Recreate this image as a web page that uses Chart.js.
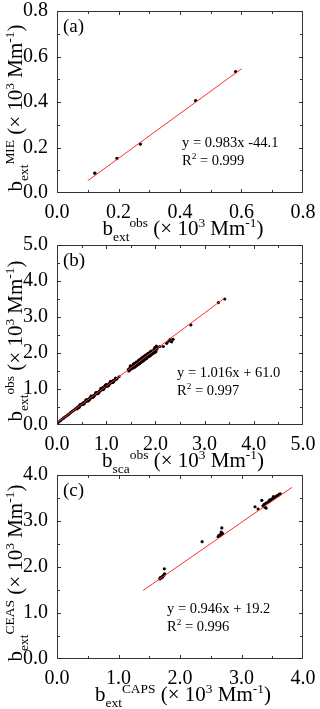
<!DOCTYPE html>
<html>
<head>
<meta charset="utf-8">
<script src="https://cdn.jsdelivr.net/npm/chart.js@4.4.1/dist/chart.umd.min.js"></script>
<style>
  body { margin: 0; background: #fff; width: 320px; height: 709px; position: relative; overflow: hidden; }
  .panel { position: absolute; left: 0; width: 320px; }
  .box { position: absolute; border: 1px solid #333; box-sizing: border-box; pointer-events: none; }
</style>
</head>
<body>
<div class="panel" style="top:0;height:245px"><canvas id="chartA"></canvas></div>
<div class="panel" style="top:230px;height:245px"><canvas id="chartB"></canvas></div>
<div class="panel" style="top:460px;height:249px"><canvas id="chartC"></canvas></div>
<script>
// (a) b_ext MIE vs b_ext obs
const obsA = [0.123, 0.195, 0.271, 0.451, 0.581];
const mieA = [0.087, 0.152, 0.215, 0.406, 0.533];
const fitAx = [0.1, 0.6];
const fitAy = [0.054, 0.546];
const ticksA = [0, 0.2, 0.4, 0.6, 0.8];

// (b) b_ext obs vs b_sca obs
const scaB = [
  0.02, 0.04, 0.07, 0.10, 0.13, 0.16, 0.19, 0.22, 0.25, 0.28, 0.31, 0.34, 0.37,
  0.40, 0.42, 0.44, 0.46, 0.48, 0.50, 0.52, 0.54, 0.56, 0.58, 0.60, 0.62, 0.64, 0.66, 0.68, 0.70,
  0.72, 0.74, 0.76, 0.78, 0.80, 0.82, 0.84, 0.86, 0.88, 0.90, 0.92, 0.94, 0.96, 0.98, 1.00,
  1.02, 1.04, 1.06, 1.08, 1.10, 1.12, 1.14, 1.16, 1.18, 1.20, 1.22, 1.26,
  0.45, 0.55, 0.65, 0.75, 0.85, 0.95, 1.05, 1.15, 0.92, 1.00, 1.08, 0.97,
  0.41, 0.47, 0.53, 0.59, 0.63, 0.69, 0.73, 0.79, 0.83, 0.89, 0.93, 0.99, 1.03, 1.09, 1.13, 1.19,
  1.45, 1.47, 1.48, 1.50, 1.51, 1.53, 1.54, 1.56, 1.57, 1.59, 1.60, 1.62, 1.63, 1.64, 1.66, 1.67,
  1.68, 1.70, 1.71, 1.72, 1.74, 1.75, 1.76, 1.78, 1.79, 1.80, 1.82, 1.83, 1.84, 1.86, 1.87, 1.88,
  1.90, 1.91, 1.92, 1.94, 1.95, 1.97, 1.98, 2.00, 2.01, 2.03, 2.02, 1.99, 1.70, 1.76, 1.58, 1.86,
  1.46, 1.49, 1.52, 1.55, 1.58, 1.61, 1.64, 1.67, 1.70, 1.73, 1.76, 1.79, 1.82, 1.85, 1.88, 1.91,
  1.94, 1.97, 2.00, 2.04, 1.65, 1.72, 1.81, 1.89,
  2.09, 2.16, 2.23, 2.27, 2.30, 2.33, 2.36, 2.72, 3.28, 3.41
];
const extB = [
  0.07, 0.09, 0.12, 0.16, 0.19, 0.22, 0.25, 0.28, 0.31, 0.35, 0.38, 0.41, 0.44,
  0.47, 0.50, 0.50, 0.54, 0.55, 0.58, 0.59, 0.62, 0.63, 0.66, 0.66, 0.70, 0.71, 0.74, 0.74, 0.78,
  0.79, 0.82, 0.83, 0.86, 0.87, 0.90, 0.91, 0.94, 0.95, 0.98, 0.99, 1.03, 1.03, 1.07, 1.07,
  1.11, 1.11, 1.15, 1.15, 1.19, 1.19, 1.23, 1.23, 1.26, 1.27, 1.29, 1.34,
  0.49, 0.59, 0.69, 0.80, 0.90, 1.00, 1.10, 1.20, 1.03, 1.12, 1.19, 1.08,
  0.45, 0.57, 0.57, 0.70, 0.67, 0.80, 0.77, 0.90, 0.87, 1.01, 0.98, 1.11, 1.08, 1.21, 1.18, 1.30,
  1.54, 1.57, 1.53, 1.60, 1.56, 1.62, 1.58, 1.65, 1.60, 1.67, 1.63, 1.70, 1.66, 1.73, 1.69, 1.76,
  1.71, 1.78, 1.74, 1.81, 1.77, 1.84, 1.79, 1.86, 1.82, 1.89, 1.85, 1.91, 1.88, 1.94, 1.90, 1.96,
  1.93, 1.99, 1.96, 2.02, 1.99, 2.05, 2.01, 2.08, 2.04, 2.11, 2.19, 2.15, 1.83, 1.90, 1.71, 1.99,
  1.50, 1.64, 1.57, 1.69, 1.62, 1.75, 1.68, 1.81, 1.74, 1.87, 1.80, 1.93, 1.86, 1.99, 1.92, 2.05,
  1.98, 2.10, 2.03, 2.15, 1.78, 1.85, 1.95, 2.02,
  2.18, 2.18, 2.27, 2.33, 2.38, 2.31, 2.38, 2.78, 3.40, 3.50
];
const fitBx = [0, 3.41];
const fitBy = [0.06, 3.53];
const ticksB = [0, 1, 2, 3, 4, 5];

// (c) b_ext CEAS vs b_ext CAPS
const capsC = [
  1.67, 1.68, 1.69, 1.70, 1.71, 1.72, 1.73, 1.74, 1.75, 1.745,
  2.36,
  2.62, 2.63, 2.64, 2.65, 2.66, 2.67, 2.68, 2.69, 2.67, 2.68,
  3.22, 3.27, 3.33, 3.35, 3.38, 3.40, 3.37, 3.40, 3.43, 3.45, 3.46, 3.47, 3.49, 3.50,
  3.52, 3.52, 3.54, 3.56, 3.58, 3.60, 3.61, 3.63
];
const ceasC = [
  1.74, 1.77, 1.76, 1.78, 1.77, 1.80, 1.81, 1.83, 1.85, 1.96,
  2.55,
  2.66, 2.68, 2.67, 2.70, 2.69, 2.72, 2.71, 2.73, 2.76, 2.85,
  3.31, 3.26, 3.45, 3.33, 3.30, 3.28, 3.36, 3.39, 3.41, 3.43, 3.46, 3.45, 3.47, 3.48,
  3.50, 3.53, 3.51, 3.53, 3.55, 3.56, 3.58, 3.59
];
const fitCx = [1.40, 3.82];
const fitCy = [1.49, 3.73];
const ticksC = [0, 1, 2, 3, 4];

const SERIF = '"Liberation Serif", "Times New Roman", serif';

function partsWidth(ctx, parts, size) {
  let w = 0;
  parts.forEach(([t, m]) => {
    ctx.font = (m ? size * 0.64 : size) + 'px ' + SERIF;
    w += ctx.measureText(t).width;
  });
  return w;
}

function drawParts(ctx, parts, x, y, size) {
  let cx = x;
  parts.forEach(([t, m]) => {
    ctx.font = (m ? size * 0.64 : size) + 'px ' + SERIF;
    const dy = m === 'sub' ? size * 0.27 : m === 'sup' ? -size * 0.4 : 0;
    ctx.fillText(t, cx, y + dy);
    cx += ctx.measureText(t).width;
  });
}

const framePlugin = {
  id: 'frame',
  afterDraw(chart, args, o) {
    const { ctx, chartArea: a, scales: { x, y } } = chart;
    ctx.save();
    const L = Math.round(a.left), T = Math.round(a.top);
    const R = Math.round(a.right), B = Math.round(a.bottom);

    // box round the plot
    ctx.strokeStyle = 'rgb(50, 50, 50)';
    ctx.lineWidth = 1;
    ctx.beginPath();
    ctx.rect(L + 0.5, T + 0.5, R - L - 1, B - T - 1);

    // inward ticks on all four sides, minor ones half way between majors
    const marks = (scale) => {
      const maj = scale.ticks.map(t => t.value);
      const min = maj.slice(1).map((v, i) => (v + maj[i]) / 2);
      return maj.map(v => [v, 4]).concat(min.map(v => [v, 3]));
    };
    marks(x).forEach(([v, len]) => {
      const px = Math.min(Math.round(x.getPixelForValue(v)), R - 1) + 0.5;
      ctx.moveTo(px, B); ctx.lineTo(px, B - len);
      ctx.moveTo(px, T); ctx.lineTo(px, T + len);
    });
    marks(y).forEach(([v, len]) => {
      const py = Math.min(Math.round(y.getPixelForValue(v)), B - 1) + 0.5;
      ctx.moveTo(L, py); ctx.lineTo(L + len, py);
      ctx.moveTo(R, py); ctx.lineTo(R - len, py);
    });
    ctx.stroke();

    ctx.fillStyle = '#000';
    ctx.textBaseline = 'alphabetic';
    ctx.textAlign = 'left';

    // x title, centred under the plot
    const xw = partsWidth(ctx, o.xTitle, 21);
    drawParts(ctx, o.xTitle, (L + R) / 2 - xw / 2 + o.xShift, B + 42, 21);

    // y title, rotated
    const yw = partsWidth(ctx, o.yTitle, 21);
    ctx.save();
    ctx.translate(22, (T + B) / 2 + o.yShift);
    ctx.rotate(-Math.PI / 2);
    drawParts(ctx, o.yTitle, -yw / 2, 0, 21);
    ctx.restore();

    // panel label and fit equation
    ctx.font = '19px ' + SERIF;
    ctx.fillText(o.label, 63, T + 21);
    drawParts(ctx, [[o.eq, '']], o.eqX, o.eqY, 14.5);
    drawParts(ctx, [['R', ''], ['2', 'sup'], [' = ' + o.r2, '']], o.eqX, o.eqY + 18, 14.5);
    ctx.restore();
  }
};

// a plain css box laid over the chart area as well, in case the canvas line is lost
function addBox(chart) {
  const a = chart.chartArea;
  const panel = chart.canvas.parentNode;
  const box = document.createElement('div');
  box.className = 'box';
  box.style.left = Math.round(a.left) + 'px';
  box.style.top = (panel.offsetTop + Math.round(a.top)) + 'px';
  box.style.width = Math.round(a.right - a.left) + 'px';
  box.style.height = Math.round(a.bottom - a.top) + 'px';
  document.body.appendChild(box);
}

function makeChart(id, xs, ys, fx, fy, ticks, p) {
  const pts = xs.map((v, i) => ({ x: v, y: ys[i] }));
  const fit = fx.map((v, i) => ({ x: v, y: fy[i] }));
  const axis = (pad) => ({
    type: 'linear',
    min: ticks[0],
    max: ticks[ticks.length - 1],
    afterBuildTicks: s => { s.ticks = ticks.map(v => ({ value: v })); },
    grid: { display: false, drawTicks: false },
    border: { display: false },
    ticks: {
      padding: pad,
      color: '#000',
      font: { family: SERIF, size: 20 },
      callback: v => v.toFixed(1)
    }
  });
  // fixed axis boxes, and no extra room for labels that hang over the ends
  const xAxis = axis(8);
  xAxis.afterFit = s => { s.height = p.h - p.bottom; s.paddingLeft = 0; s.paddingRight = 0; };
  const yAxis = axis(9);
  yAxis.afterFit = s => { s.width = 57; s.paddingTop = 0; s.paddingBottom = 0; };

  const chart = new Chart(document.getElementById(id), {
    type: 'scatter',
    data: {
      datasets: [
        {
          type: 'line',
          data: fit,
          borderColor: 'rgb(255, 45, 45)',
          borderWidth: 1,
          pointRadius: 0,
          fill: false,
          order: 0
        },
        {
          data: pts,
          backgroundColor: '#000',
          borderWidth: 0,
          pointRadius: p.radius,
          order: 1
        }
      ]
    },
    options: {
      responsive: true,
      maintainAspectRatio: false,
      animation: false,
      layout: { autoPadding: false, padding: { top: p.top, right: 17, left: 0, bottom: 0 } },
      plugins: {
        legend: { display: false },
        tooltip: { enabled: false },
        frame: p.text
      },
      scales: { x: xAxis, y: yAxis }
    },
    plugins: [framePlugin]
  });
  addBox(chart);
  return chart;
}

makeChart('chartA', obsA, mieA, fitAx, fitAy, ticksA, {
  h: 245, top: 11, bottom: 193, radius: 1.7,
  text: {
    label: '(a)', eq: 'y = 0.983x -44.1', r2: '0.999', eqX: 182, eqY: 147, xShift: 3, yShift: 6,
    xTitle: [['b', ''], ['ext', 'sub'], ['obs', 'sup'], [' (\u00d7 10', ''], ['3', 'sup'], [' Mm', ''], ['-1', 'sup'], [')', '']],
    yTitle: [['b', ''], ['ext', 'sub'], ['MIE', 'sup'], [' (\u00d7 10', ''], ['3', 'sup'], [' Mm', ''], ['-1', 'sup'], [')', '']]
  }
});

makeChart('chartB', scaB, extB, fitBx, fitBy, ticksB, {
  h: 245, top: 15, bottom: 195, radius: 1.6,
  text: {
    label: '(b)', eq: 'y = 1.016x + 61.0', r2: '0.997', eqX: 177, eqY: 147, xShift: 3, yShift: 6,
    xTitle: [['b', ''], ['sca', 'sub'], ['obs', 'sup'], [' (\u00d7 10', ''], ['3', 'sup'], [' Mm', ''], ['-1', 'sup'], [')', '']],
    yTitle: [['b', ''], ['ext', 'sub'], ['obs', 'sup'], [' (\u00d7 10', ''], ['3', 'sup'], [' Mm', ''], ['-1', 'sup'], [')', '']]
  }
});

makeChart('chartC', capsC, ceasC, fitCx, fitCy, ticksC, {
  h: 249, top: 15, bottom: 199, radius: 1.6,
  text: {
    label: '(c)', eq: 'y = 0.946x + 19.2', r2: '0.996', eqX: 167, eqY: 153, xShift: 3, yShift: 6,
    xTitle: [['b', ''], ['ext', 'sub'], ['CAPS', 'sup'], [' (\u00d7 10', ''], ['3', 'sup'], [' Mm', ''], ['-1', 'sup'], [')', '']],
    yTitle: [['b', ''], ['ext', 'sub'], ['CEAS', 'sup'], [' (\u00d7 10', ''], ['3', 'sup'], [' Mm', ''], ['-1', 'sup'], [')', '']]
  }
});
</script>
</body>
</html>
